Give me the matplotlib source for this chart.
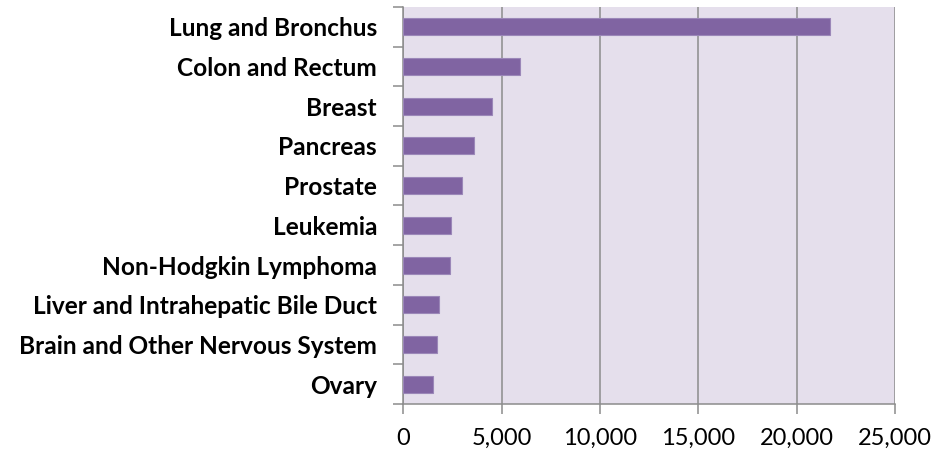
import numpy as np
import matplotlib
matplotlib.use("Agg")
import matplotlib.pyplot as plt
from matplotlib.ticker import FuncFormatter, FixedLocator

# Dati
sites = ["Lung and Bronchus", "Colon and Rectum", "Breast", "Pancreas", "Prostate",
         "Leukemia", "Non-Hodgkin Lymphoma", "Liver and Intrahepatic Bile Duct",
         "Brain and Other Nervous System", "Ovary"]
deaths = [21700, 5950, 4500, 3600, 3000, 2400, 2350, 1820, 1690, 1500]
xticks = [0, 5000, 10000, 15000, 20000, 25000]

plt.rcParams['font.family'] = ['Lato', 'DejaVu Sans']

fig = plt.figure(figsize=(9.47, 4.51), dpi=100)
ax = fig.add_axes([0.426, 0.1042, 0.945 - 0.426, 0.9845 - 0.1042])
ax.set_facecolor("#E5DFEC")

y = np.arange(len(sites))
ax.barh(y, deaths, height=0.43, color="#8064A2", edgecolor="#9B87B8", linewidth=0.8, zorder=3)

ax.set_xlim(0, 25000)
ax.set_ylim(len(sites) - 0.5, -0.5)

ax.xaxis.set_major_locator(FixedLocator(xticks))
ax.xaxis.set_major_formatter(FuncFormatter(lambda v, p: f"{int(v):,}"))
ax.grid(axis="x", color="#8C8C8C", linewidth=1.1, zorder=1)

# etichette categorie al centro, tacche sui confini (stile Excel)
ax.set_yticks(y)
ax.set_yticklabels(sites, fontsize=17.6, fontweight="bold")
ax.set_yticks(np.arange(len(sites) + 1) - 0.5, minor=True)
ax.tick_params(axis="y", which="major", length=0, pad=19)
ax.tick_params(axis="y", which="minor", length=7, color="#8C8C8C", width=1.1)
ax.tick_params(axis="x", length=7, color="#8C8C8C", width=1.1, labelsize=17, pad=10)

for s in ["top", "right"]:
    ax.spines[s].set_visible(False)
for s in ["left", "bottom"]:
    ax.spines[s].set_color("#8C8C8C")
    ax.spines[s].set_linewidth(1.1)

fig.savefig("out.png", dpi=100)
